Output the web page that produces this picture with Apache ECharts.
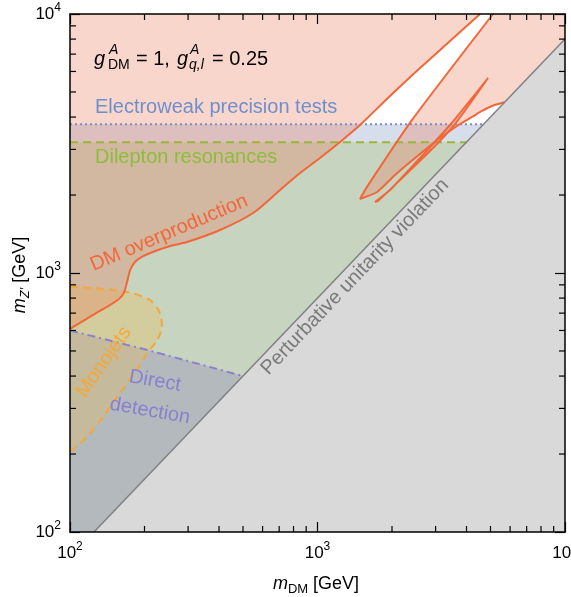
<!DOCTYPE html>
<html>
<head>
<meta charset="utf-8">
<script src="https://cdn.jsdelivr.net/npm/echarts@6/dist/echarts.min.js"></script>
<style>
html, body { margin: 0; padding: 0; background: #fff; }
#main { width: 571px; height: 597px; }
</style>
</head>
<body>
<div id="main"></div>
<script>
// m_DM [GeV] on x, m_Z' [GeV] on y, both log
var minorTicks = [200, 300, 400, 500, 600, 700, 800, 900, 2000, 3000, 4000, 5000, 6000, 7000, 8000, 9000];

var unitarityLine = [[125, 100], [10000, 8000]];
var ewLine = [[100, 3750], [4690, 3750]];
var dileptonLine = [[100, 3200], [4000, 3200]];
var directLine = [[100, 600], [206, 504], [500, 400]];
var monojetCurve = [[100, 883], [124, 875], [170, 844], [210, 787], [231, 701], [235, 619], [225, 551],
  [205, 491], [186, 422], [159, 344], [136, 278], [117, 233], [102, 207], [100, 204]];
// relic density boundary (left branch)
var relicMain = [[100, 608], [126, 695], [156, 787], [165, 837], [170, 923], [175, 1027], [183, 1103],
  [195, 1153], [216, 1205], [254, 1271], [297, 1317], [404, 1466], [549, 1705], [706, 2092], [850, 2433],
  [1023, 2780], [1233, 3205], [1485, 3727], [1963, 4825], [2595, 6186], [3431, 7867], [4536, 10000]];
// funnel edge: from top down to the tip, then back out to the unitarity line
var relicFunnel = [[5120, 10000], [2410, 3900], [1585, 2150], [1485, 1931], [1739, 2054], [2056, 2390],
  [2477, 2780], [3126, 3320], [3765, 3760], [4210, 4003], [4619, 4222], [5069, 4415], [5700, 4560]];
var relicNeedle = [[1707, 1880], [1963, 2092], [2595, 2780], [3431, 3727], [4887, 5661], [3594, 3760],
  [2929, 3038], [2154, 2286], [1755, 1897], [1707, 1880]];

var FONT = 'Liberation Sans';
var chart = echarts.init(document.getElementById('main'));

function area(points, color) {
  return {
    type: 'custom',
    silent: true,
    z: 1,
    data: [[100, 100]],
    renderItem: function (params, api) {
      return {
        type: 'polygon',
        shape: { points: points.map(function (p) { return api.coord(p); }) },
        style: { fill: color }
      };
    }
  };
}

function line(points, color, type, width, smooth) {
  return {
    type: 'line',
    silent: true,
    z: 3,
    symbol: 'none',
    smooth: smooth || false,
    data: points,
    lineStyle: { color: color, type: type, width: width || 2 }
  };
}

function expLabel(v) {
  return '{b|10}{s|' + Math.round(Math.log10(v)) + '}';
}
var expRich = {
  b: { fontFamily: FONT, fontSize: 17, color: '#000', lineHeight: 24 },
  s: { fontFamily: FONT, fontSize: 12, color: '#000', verticalAlign: 'top', lineHeight: 12 }
};

function axis(pos, showLabel) {
  return {
    type: 'log',
    logBase: 10,
    min: 100,
    max: 10000,
    position: pos,
    z: 10,
    axisLine: { show: true, lineStyle: { color: '#000', width: 1.5 } },
    axisTick: { show: true, inside: true, length: 10, lineStyle: { color: '#000', width: 1.2 } },
    axisLabel: { show: showLabel, margin: 9, formatter: expLabel, rich: expRich },
    splitLine: { show: false }
  };
}

function txt(x, y, text, color, size, extra, rot) {
  var st = { text: text, fill: color, fontFamily: FONT, fontSize: size, align: 'left', verticalAlign: 'middle' };
  for (var k in (extra || {})) st[k] = extra[k];
  return { type: 'text', x: x, y: y, rotation: (rot || 0) * Math.PI / 180, z: 20, silent: true, style: st };
}

var pink = 'rgba(235,118,85,0.3)';

chart.setOption({
  animation: false,
  backgroundColor: '#fff',
  grid: { left: 70, top: 14, right: 6, bottom: 65, outerBoundsMode: 'none' },
  xAxis: [axis('bottom', true), axis('top', false)],
  yAxis: [axis('left', true), axis('right', false)],
  series: [
    area([[100, 100]].concat(ewLine, [[125, 100]]), 'rgba(118,145,188,0.3)'),
    area([[100, 100]].concat(dileptonLine, [[125, 100]]), 'rgba(167,189,92,0.3)'),
    area([[100, 100]].concat(directLine, [[125, 100]]), 'rgba(143,135,181,0.35)'),
    area(monojetCurve, 'rgba(237,189,79,0.3)'),
    area(relicMain.concat([[100, 10000]]), pink),
    area(relicFunnel.concat([[10000, 8000], [10000, 10000]]), pink),
    area(relicNeedle, pink),
    (function () { var s = area(unitarityLine.concat([[10000, 100]]), '#d9d9d9'); s.z = 2; return s; })(),
    line(ewLine, '#7d8cc4', [2, 3]),
    line(dileptonLine, '#9db53a', [8, 5]),
    line(directLine, '#8b80cf', [8, 4, 2, 4]),
    line(monojetCurve, '#f2a93b', [8, 5], 2, 0.3),
    line(relicMain, '#f2673a', 'solid', 2, 0.3),
    line(relicFunnel, '#f2673a', 'solid', 2, 0.2),
    line(relicNeedle, '#f2673a', 'solid', 2, 0.2),
    line(unitarityLine, '#808080', 'solid', 1.5),
    {
      type: 'custom',
      silent: true,
      clip: false,
      z: 11,
      data: minorTicks.map(function (v) { return [v, v]; }),
      renderItem: function (params, api) {
        var v = api.value(0);
        var b = api.coord([v, 100]), t = api.coord([v, 10000]);
        var l = api.coord([100, v]), r = api.coord([10000, v]);
        var st = { stroke: '#000', lineWidth: 1.2 };
        return {
          type: 'group',
          children: [
            { type: 'line', shape: { x1: b[0], y1: b[1], x2: b[0], y2: b[1] - 6 }, style: st },
            { type: 'line', shape: { x1: t[0], y1: t[1], x2: t[0], y2: t[1] + 6 }, style: st },
            { type: 'line', shape: { x1: l[0], y1: l[1], x2: l[0] + 6, y2: l[1] }, style: st },
            { type: 'line', shape: { x1: r[0], y1: r[1], x2: r[0] - 6, y2: r[1] }, style: st }
          ]
        };
      }
    }
  ],
  graphic: [
    // coupling values
    txt(94, 59, 'g', '#000', 20, { fontStyle: 'italic' }),
    txt(109, 50, 'A', '#000', 14, { fontStyle: 'italic' }),
    txt(108, 65, 'DM', '#000', 14),
    txt(136, 59, '= 1,', '#000', 20),
    txt(177, 59, 'g', '#000', 20, { fontStyle: 'italic' }),
    txt(190, 50, 'A', '#000', 14, { fontStyle: 'italic' }),
    txt(189, 65, 'q,l', '#000', 14, { fontStyle: 'italic' }),
    txt(212, 59, '= 0.25', '#000', 20),
    // region labels
    txt(95, 107, 'Electroweak precision tests', '#6f8fcc', 20),
    txt(95, 157, 'Dilepton resonances', '#8dbd3c', 20),
    txt(169, 233, 'DM overproduction', '#f2673a', 20, { align: 'center' }, 23),
    txt(104, 362, 'Monojets', '#f2a93b', 20, { align: 'center' }, 55),
    txt(155, 381, 'Direct', '#8b80cf', 20, { align: 'center' }, -10),
    txt(150, 411, 'detection', '#8b80cf', 20, { align: 'center' }, -10),
    txt(355, 277, 'Perturbative unitarity violation', '#7a7a7a', 20, { align: 'center' }, 46.4),
    // axis names
    {
      type: 'text', x: 316, y: 584, silent: true,
      style: {
        text: '{i|m}{s|DM}{n| [GeV]}', align: 'center', verticalAlign: 'middle',
        rich: {
          i: { fontFamily: FONT, fontSize: 18, fontStyle: 'italic', lineHeight: 24, fill: '#000' },
          s: { fontFamily: FONT, fontSize: 13, verticalAlign: 'bottom', lineHeight: 16, fill: '#000' },
          n: { fontFamily: FONT, fontSize: 18, lineHeight: 24, fill: '#000' }
        }
      }
    },
    {
      type: 'text', x: 20, y: 275, rotation: Math.PI / 2, silent: true,
      style: {
        text: '{i|m}{s|Z\u2032}{n| [GeV]}', align: 'center', verticalAlign: 'middle',
        rich: {
          i: { fontFamily: FONT, fontSize: 18, fontStyle: 'italic', lineHeight: 24, fill: '#000' },
          s: { fontFamily: FONT, fontSize: 13, fontStyle: 'italic', verticalAlign: 'bottom', lineHeight: 16, fill: '#000' },
          n: { fontFamily: FONT, fontSize: 18, lineHeight: 24, fill: '#000' }
        }
      }
    }
  ]
});
</script>
</body>
</html>
